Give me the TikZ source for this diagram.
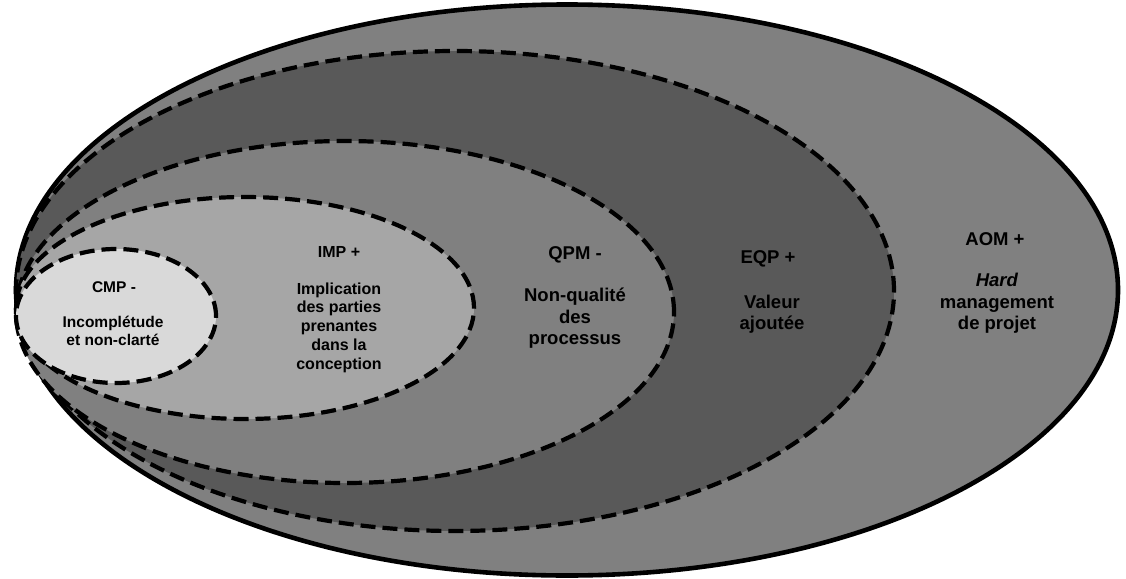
\documentclass[tikz,border=0pt]{standalone}
\usepackage{fontspec}
\setmainfont{Liberation Sans}
\usetikzlibrary{shapes.geometric}
\definecolor{ringAOM}{HTML}{808080}
\definecolor{ringEQP}{HTML}{595959}
\definecolor{ringQPM}{HTML}{808080}
\definecolor{ringIMP}{HTML}{A6A6A6}
\definecolor{ringCMP}{HTML}{D9D9D9}
\tikzset{
  zone/.style={ellipse, inner sep=0pt, draw=black},
  dashzone/.style={zone, line width=4.2pt, dash pattern=on 15pt off 7pt},
  ttl/.style={align=center, inner sep=0pt},
  small/.style={font=\fontsize{15.5}{18}\selectfont\bfseries},
  mid/.style={font=\fontsize{16}{18.75}\selectfont\bfseries},
  big/.style={font=\fontsize{18.5}{21.5}\selectfont\bfseries}
}
\begin{document}
\begin{tikzpicture}[x=1pt,y=-1pt]
\useasboundingbox (0,0) rectangle (1126,578);
% nested zones, outermost first
\node[zone, line width=4.6pt, fill=ringAOM, minimum width=1102pt, minimum height=571pt] (aom) at (567,290) {};
\node[dashzone, fill=ringEQP, minimum width=878pt, minimum height=480pt] (eqp) at (455,291) {};
\node[dashzone, fill=ringQPM, minimum width=658pt, minimum height=342pt] (qpm) at (345,312) {};
\node[dashzone, fill=ringIMP, minimum width=458pt, minimum height=222pt] (imp) at (245,308) {};
\node[dashzone, fill=ringCMP, minimum width=200pt, minimum height=134pt] (cmp) at (116,316) {};
% labels
\node[ttl, small] (cmpT) at (114,287) {CMP -};
\node[ttl, small] (cmpB) at (113,331) {Incomplétude\\et non-clarté};
\node[ttl, mid] (impT) at (339,252) {IMP +};
\node[ttl, mid] (impB) at (339,327.5) {Implication\\des parties\\prenantes\\dans la\\conception};
\node[ttl, big] (qpmT) at (575,255) {QPM -};
\node[ttl, big] (qpmB) at (575,318.5) {Non-qualité\\des\\processus};
\node[ttl, big] (eqpT) at (768,259) {EQP +};
\node[ttl, big] (eqpB) at (772,314) {Valeur\\ajoutée};
\node[ttl, big] (aomT) at (995,239) {AOM +};
\node[ttl, big] (aomB) at (997,303.5) {\textit{Hard}\\management\\de projet};
\end{tikzpicture}
\end{document}
